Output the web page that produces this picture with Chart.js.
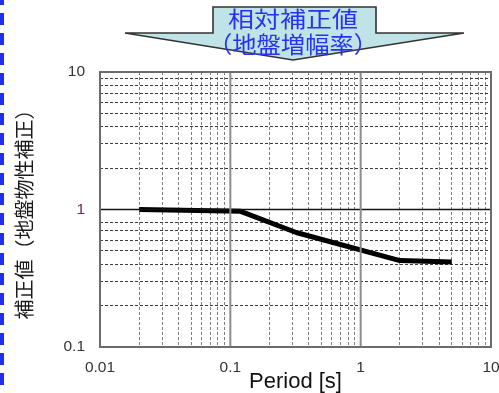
<!DOCTYPE html>
<html>
<head>
<meta charset="utf-8">
<script src="https://cdn.jsdelivr.net/npm/chart.js@4/dist/chart.umd.min.js"></script>
<style>
  html, body { margin: 0; padding: 0; background: #fff; }
  #wrap { position: relative; width: 499px; height: 393px; overflow: hidden; }
  #chart { position: absolute; left: 0; top: 0; }
  #banner { position: absolute; left: 0; top: 0; }
  #banner text { font-family: "Noto Sans CJK JP", sans-serif; fill: #2733f0; }
</style>
</head>
<body>
<div id="wrap">
  <canvas id="chart" width="499" height="393"></canvas>
  <svg id="banner" width="499" height="66" xmlns="http://www.w3.org/2000/svg">
    <polygon points="213,7 376,7 376,33 464,33 293,60 125,33 213,33"
             fill="#bfe3e6" stroke="#333" stroke-width="1.6" stroke-linejoin="miter"/>
    <text x="293" y="27" font-size="22" text-anchor="middle" textLength="130" lengthAdjust="spacingAndGlyphs">相対補正値</text>
    <text x="293" y="53" font-size="23" text-anchor="middle" textLength="170" lengthAdjust="spacingAndGlyphs">（地盤増幅率）</text>
  </svg>
</div>
<script>
// Period [s] vs. correction factor (site property correction)
const periods    = [0.02, 0.12, 0.32, 2, 5];
const correction = [1.0, 0.97, 0.68, 0.425, 0.415];

// axis ranges
const periodRange = [0.01, 10];
const factorRange = [0.1, 10];

// grid lines (log minor divisions)
const periodGrid = [0.01, 0.02, 0.03, 0.04, 0.05, 0.06, 0.07, 0.08, 0.09,
                    0.1, 0.2, 0.3, 0.4, 0.5, 0.6, 0.7, 0.8, 0.9,
                    1, 2, 3, 4, 5, 6, 7, 8, 9, 10];
const factorGrid = [0.1, 0.2, 0.3, 0.4, 0.5, 0.6, 0.7, 0.8,
                    1, 2, 3, 4, 5, 6, 7, 8, 9, 10];

// labelled ticks
const periodLabels = [0.01, 0.1, 1, 10];
const factorLabels = [0.1, 1, 10];

// emphasised reference lines
const unityFactor   = [1];
const decadePeriods = [0.1, 1];

const numFont = '"Liberation Sans", Arial, sans-serif';
const cjkFont = '"Noto Sans CJK JP", sans-serif';

const datasets = [];
decadePeriods.forEach(p => datasets.push({
  data: [{ x: p, y: factorRange[0] }, { x: p, y: factorRange[1] }],
  borderColor: '#8c8c8c', borderWidth: 2, pointRadius: 0
}));
unityFactor.forEach(f => datasets.push({
  data: [{ x: periodRange[0], y: f }, { x: periodRange[1], y: f }],
  borderColor: '#111', borderWidth: 1.5, pointRadius: 0
}));
datasets.push({
  data: periods.map((p, i) => ({ x: p, y: correction[i] })),
  borderColor: '#000', borderWidth: 5, pointRadius: 0,
  borderJoinStyle: 'round', borderCapStyle: 'butt', tension: 0
});

// frame around the plot and dashed blue edge on the left
const framePlugin = {
  id: 'frame',
  afterDraw(chart) {
    const { ctx, chartArea: a } = chart;
    ctx.save();
    ctx.strokeStyle = '#6c6c6c';
    ctx.lineWidth = 2;
    ctx.strokeRect(a.left, a.top, a.right - a.left, a.bottom - a.top);
    ctx.strokeStyle = '#1f2ff0';
    ctx.lineWidth = 4;
    ctx.setLineDash([12, 8]);
    ctx.lineDashOffset = 7;
    ctx.beginPath();
    ctx.moveTo(2, 0);
    ctx.lineTo(2, chart.height);
    ctx.stroke();
    ctx.restore();
  }
};

new Chart(document.getElementById('chart'), {
  type: 'line',
  data: { datasets },
  plugins: [framePlugin],
  options: {
    responsive: false,
    animation: false,
    layout: { padding: { top: 72, right: 8, bottom: 0, left: 0 } },
    plugins: { legend: { display: false }, tooltip: { enabled: false } },
    scales: {
      x: {
        type: 'logarithmic',
        min: periodRange[0], max: periodRange[1],
        afterBuildTicks: s => { s.ticks = periodGrid.map(v => ({ value: v })); },
        afterFit: s => { s.height = 46; s.paddingLeft = 0; s.paddingRight = 0; },
        ticks: {
          autoSkip: false, maxRotation: 0, minRotation: 0, padding: 11,
          font: { family: numFont, size: 15.5 }, color: '#333',
          callback: v => periodLabels.includes(v) ? String(v) : ''
        },
        grid: { color: '#7d7d7d', lineWidth: 1, drawTicks: false, tickLength: 0 },
        border: { display: false, dash: [3, 2] },
        title: {
          display: true, text: 'Period [s]', color: '#111',
          font: { family: numFont, size: 22, lineHeight: 1 },
          padding: { top: 0, bottom: 0 }
        }
      },
      y: {
        type: 'logarithmic',
        min: factorRange[0], max: factorRange[1],
        afterBuildTicks: s => { s.ticks = factorGrid.map(v => ({ value: v })); },
        afterFit: s => { s.width = 100; s.paddingTop = 0; s.paddingBottom = 0; },
        ticks: {
          autoSkip: false, padding: 15,
          font: { family: numFont, size: 15.5 },
          color: c => (c.tick && c.tick.value === 1) ? '#6d2469' : '#333',
          callback: v => factorLabels.includes(v) ? String(v) : ''
        },
        grid: { color: '#3c3c3c', lineWidth: 1, drawTicks: false, tickLength: 0 },
        border: { display: false, dash: [3, 2] },
        title: {
          display: true, text: '補正値（地盤物性補正）', color: '#1a1a1a',
          font: { family: cjkFont, size: 20, lineHeight: 1 },
          padding: { top: 14, bottom: 0 }
        }
      }
    }
  }
});
</script>
</body>
</html>
